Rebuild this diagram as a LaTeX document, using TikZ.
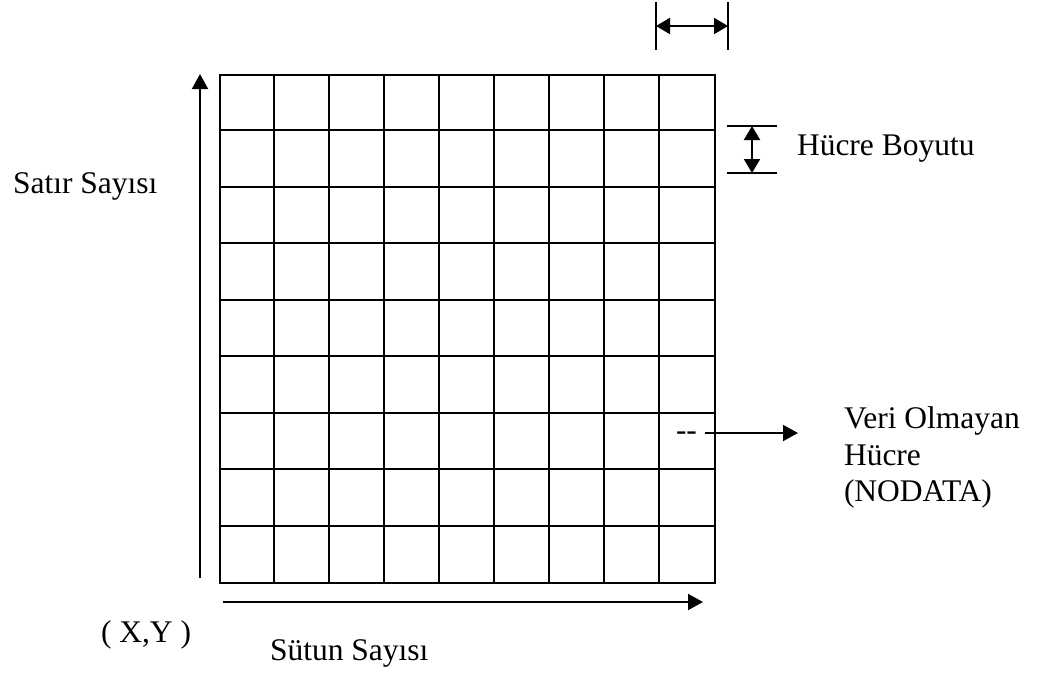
\documentclass[tikz,border=0pt]{standalone}
\usepackage{fontspec}
\setmainfont{Liberation Serif}
\usetikzlibrary{arrows.meta}

\begin{document}
\begin{tikzpicture}[
  x=1pt, y=-1pt,
  line width=2pt,
  lbl/.style={font=\fontsize{31.5}{36.7}\selectfont, inner sep=0pt, anchor=base west},
  arr/.style={-{Triangle[length=15pt, width=16pt]}},
  dbl/.style={{Triangle[length=14pt, width=16pt]}-{Triangle[length=14pt, width=16pt]}}
]
\useasboundingbox (0,0) rectangle (1050,681);

% raster 9 x 9
\node[draw, anchor=north west, inner sep=0pt, minimum width=495pt, minimum height=508pt] (grid) at (219,74) {};
\foreach \i in {1,...,8} {
  \draw (219+\i*55,74) -- (219+\i*55,582);
  \draw (219,74+\i*56.44) -- (714,74+\i*56.44);
}

% row / column axes
\coordinate (rowS) at (200,578);
\coordinate (rowE) at (200,74);
\draw[arr] (rowS) -- (rowE);
\coordinate (colS) at (223,602);
\coordinate (colE) at (703,602);
\draw[arr] (colS) -- (colE);
\node[lbl] (satir) at (12,193) {Satır Sayısı};
\node[lbl] (sutun) at (269,660) {Sütun Sayısı};
\node[lbl] (xy) at (100,642) {( X,Y )};

% cell width (top)
\coordinate (cwL) at (656,26);
\coordinate (cwR) at (728,26);
\draw (cwL) ++(0,-24) -- ++(0,48);
\draw (cwR) ++(0,-24) -- ++(0,48);
\draw[dbl] (cwL) -- (cwR);

% cell size (right)
\coordinate (chT) at (752,126);
\coordinate (chB) at (752,173);
\draw (chT) ++(-25,0) -- ++(50,0);
\draw (chB) ++(-25,0) -- ++(50,0);
\draw[dbl] (chT) -- (chB);
\node[lbl] (boyut) at (796,155) {Hücre Boyutu};

% nodata cell
\node[lbl] (nd) at (675,440) {-{}-};
\coordinate (ndE) at (798,433);
\draw[arr] ([xshift=7pt]nd.east |- ndE) -- (ndE);
\node[lbl, anchor=north west, align=left] (veri) at (843,405.5) {Veri Olmayan\\Hücre\\(NODATA)};
\end{tikzpicture}
\end{document}
